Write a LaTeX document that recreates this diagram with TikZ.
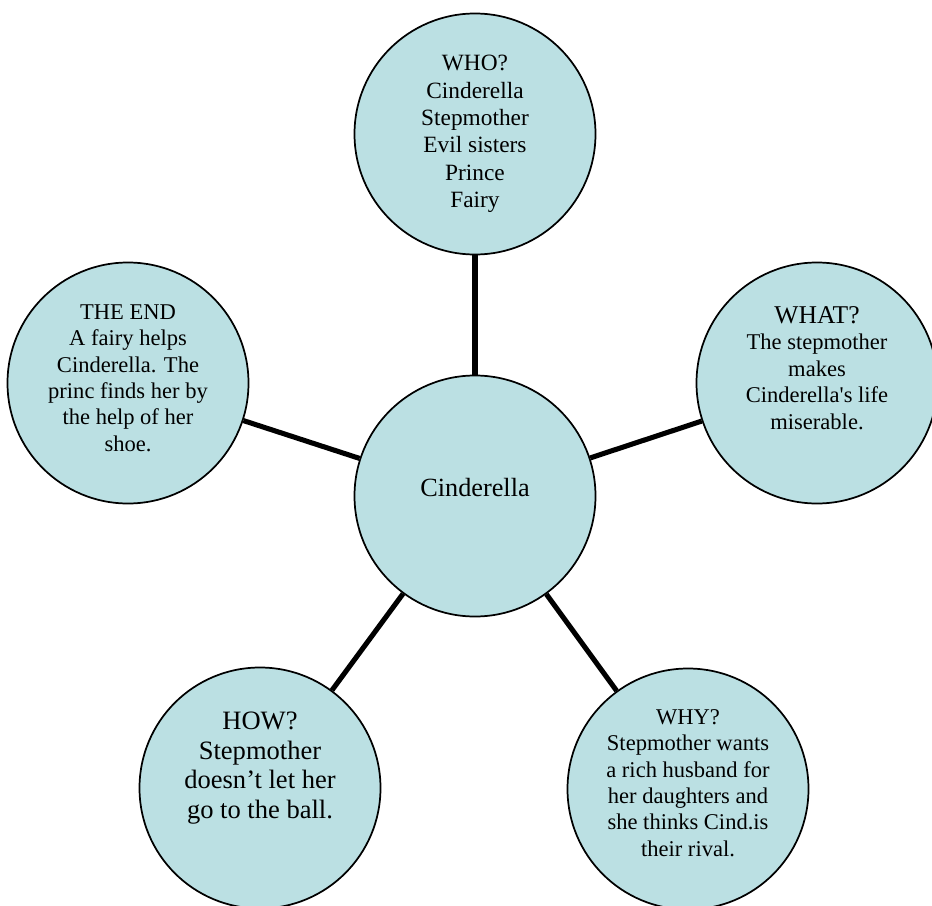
\documentclass[tikz,border=0pt]{standalone}
\usepackage{fontspec}
\setmainfont{Liberation Serif}
\definecolor{bubblefill}{RGB}{187,224,227}
\begin{document}
\begin{tikzpicture}[x=.75pt, y=-.75pt,
	bubble/.style={circle, draw=black, line width=1.3pt, fill=bubblefill, minimum size=180.75pt, inner sep=0pt},
	spoke/.style={draw=black, line width=3.8pt},
	words/.style={align=center, inner sep=0pt, font=\fontsize{16.9}{19.8}\selectfont}]
	\clip (0,0) rectangle (932,906);
	\node[bubble] (hub)    at (475,496) {};
	\node[bubble] (who)    at (475,134) {};
	\node[bubble] (what)   at (817,383) {};
	\node[bubble] (why)    at (688,789) {};
	\node[bubble] (how)    at (260,788) {};
	\node[bubble] (theend) at (128,383) {};
	\draw[spoke] (hub) -- (who);
	\draw[spoke] (hub) -- (what);
	\draw[spoke] (hub) -- (why);
	\draw[spoke] (hub) -- (how);
	\draw[spoke] (hub) -- (theend);
	\node[words, font=\fontsize{19.7}{23}\selectfont]   (hubtext)    at ([yshift=6pt]hub)       {Cinderella};
	\node[words, font=\fontsize{17.5}{20.5}\selectfont] (whotext)    at (who)                   {WHO?\\Cinderella\\Stepmother\\Evil sisters\\Prince\\Fairy};
	\node[words, font=\fontsize{16.9}{19.9}\selectfont] (whattext)   at ([yshift=11.25pt]what)  {{\fontsize{19.2}{19.9}\selectfont WHAT?}\\The stepmother\\makes\\Cinderella\textquotesingle s life\\miserable.};
	\node[words]                                        (whytext)    at ([yshift=4.5pt]why)     {WHY?\\Stepmother wants\\a rich husband for\\her daughters and\\she thinks Cind.is\\their rival.};
	\node[words, font=\fontsize{19.9}{22.3}\selectfont] (howtext)    at ([yshift=15pt]how)      {HOW?\\Stepmother\\doesn’t let her\\go to the ball.};
	\node[words]                                        (theendtext) at ([yshift=3.75pt]theend) {THE END\\A fairy helps\\Cinderella. The\\princ finds her by\\the help of her\\shoe.};
\end{tikzpicture}
\end{document}
